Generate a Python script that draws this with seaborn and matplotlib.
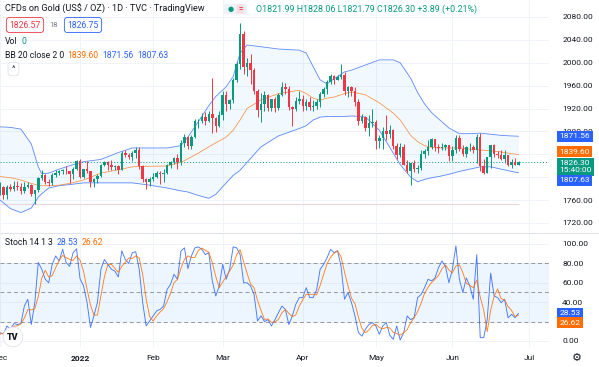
import matplotlib
matplotlib.use("Agg")
import matplotlib.pyplot as plt
import numpy as np
import pandas as pd
import seaborn as sns

# ---- data (daily bars, Dec 1 2021 .. Jun 28 2022) ----
opens = [1774, 1782, 1769, 1783, 1779, 1785, 1783, 1775, 1782, 1787, 1771, 1777, 1799, 1804, 1791, 1789, 1803, 1808, 1811, 1811, 1810, 1805, 1815,
         1829, 1801, 1814, 1810, 1791, 1797, 1802, 1821, 1826, 1821, 1817, 1819, 1813, 1842, 1839, 1835, 1843, 1848, 1819, 1797, 1791,
         1797, 1801, 1807, 1805, 1808, 1821, 1826, 1833, 1827, 1860, 1871, 1855, 1870, 1898, 1898, 1906, 1898, 1910, 1903, 1889,
         1908, 1943, 1928, 1935, 1970, 1998, 2050, 1992, 1999, 1987, 1951, 1917, 1928, 1943, 1921, 1936, 1921, 1944, 1958, 1954, 1922, 1919, 1933,
         1937, 1925, 1932, 1923, 1925, 1931, 1946, 1954, 1966, 1977, 1970, 1975, 1979, 1950, 1958, 1951, 1931, 1898, 1905, 1886, 1894,
         1897, 1863, 1868, 1881, 1876, 1883, 1854, 1838, 1853, 1822, 1811, 1824, 1815, 1816, 1841, 1846, 1853, 1866, 1853, 1851, 1853, 1856,
         1837, 1847, 1869, 1850, 1841, 1852, 1853, 1848, 1871, 1819, 1808, 1835, 1857, 1840, 1838, 1832, 1838, 1822, 1827, 1821.99]
highs = [1792, 1784, 1787, 1788, 1793, 1793, 1790, 1792, 1791, 1788, 1778, 1800, 1812, 1806, 1796, 1808, 1813, 1812, 1815, 1820, 1811, 1817, 1830,
         1831, 1815, 1829, 1811, 1799, 1805, 1823, 1829, 1829, 1830, 1822, 1821, 1845, 1847, 1843, 1845, 1852, 1853, 1822, 1799, 1801,
         1808, 1811, 1810, 1815, 1823, 1829, 1836, 1841, 1865, 1875, 1872, 1873, 1902, 1902, 1913, 1914, 1915, 1974, 1906, 1916,
         1950, 1950, 1937, 1974, 2002, 2070, 2056, 2009, 2015, 1990, 1954, 1947, 1950, 1945, 1937, 1940, 1947, 1966, 1965, 1960, 1924, 1940, 1950,
         1944, 1937, 1940, 1934, 1937, 1948, 1958, 1970, 1981, 1979, 1978, 1998, 1983, 1960, 1960, 1958, 1936, 1911, 1907, 1909, 1920,
         1900, 1873, 1887, 1909, 1891, 1884, 1860, 1859, 1858, 1830, 1825, 1830, 1822, 1847, 1849, 1865, 1869, 1867, 1858, 1860, 1858, 1857,
         1855, 1874, 1874, 1857, 1855, 1860, 1857, 1875, 1878, 1832, 1836, 1857, 1858, 1846, 1847, 1847, 1838, 1831, 1834, 1828.06]
lows = [1769, 1762, 1762, 1776, 1776, 1777, 1771, 1773, 1781, 1767, 1753, 1774, 1795, 1788, 1785, 1786, 1801, 1803, 1806, 1805, 1790, 1797, 1813,
        1799, 1798, 1808, 1783, 1783, 1789, 1800, 1819, 1812, 1813, 1813, 1805, 1812, 1836, 1831, 1828, 1834, 1815, 1792, 1780, 1785,
        1794, 1799, 1788, 1791, 1805, 1816, 1823, 1815, 1822, 1852, 1850, 1849, 1868, 1886, 1894, 1892, 1896, 1878, 1879, 1888,
        1900, 1915, 1920, 1930, 1966, 1989, 1981, 1976, 1962, 1945, 1906, 1896, 1915, 1916, 1916, 1914, 1917, 1942, 1945, 1918, 1890, 1915, 1928,
        1916, 1918, 1917, 1915, 1919, 1923, 1940, 1946, 1962, 1962, 1970, 1972, 1944, 1940, 1941, 1925, 1891, 1895, 1881, 1872, 1888,
        1850, 1851, 1850, 1865, 1868, 1850, 1832, 1836, 1821, 1808, 1787, 1809, 1807, 1813, 1834, 1838, 1850, 1845, 1842, 1847, 1848, 1829,
        1828, 1843, 1846, 1837, 1835, 1845, 1842, 1825, 1810, 1805, 1807, 1816, 1835, 1834, 1830, 1824, 1820, 1816, 1822, 1821.79]
closes = [1782, 1769, 1783, 1779, 1785, 1783, 1775, 1782, 1787, 1771, 1777, 1799, 1804, 1791, 1789, 1803, 1808, 1811, 1811, 1810, 1805, 1815, 1829,
          1801, 1814, 1810, 1791, 1797, 1802, 1821, 1826, 1821, 1817, 1819, 1813, 1842, 1839, 1835, 1843, 1848, 1819, 1797, 1791, 1797,
          1801, 1807, 1805, 1808, 1821, 1826, 1833, 1827, 1860, 1871, 1855, 1870, 1898, 1898, 1906, 1898, 1910, 1903, 1889, 1908,
          1943, 1928, 1935, 1970, 1998, 2050, 1992, 1999, 1987, 1951, 1917, 1928, 1943, 1921, 1936, 1921, 1944, 1958, 1954, 1922, 1919, 1933, 1937,
          1925, 1932, 1923, 1925, 1931, 1946, 1954, 1966, 1977, 1970, 1975, 1979, 1950, 1958, 1951, 1931, 1898, 1905, 1886, 1894, 1897,
          1863, 1868, 1881, 1876, 1883, 1854, 1838, 1853, 1822, 1811, 1824, 1815, 1816, 1841, 1846, 1853, 1866, 1853, 1851, 1853, 1856, 1837,
          1847, 1869, 1850, 1841, 1852, 1853, 1848, 1871, 1819, 1808, 1835, 1857, 1840, 1838, 1832, 1838, 1822, 1827, 1822, 1826.30]

# Bollinger bands at a subset of bars
bb_idx = [0, 3, 6, 9, 11, 12, 14, 17, 20, 24, 29, 34, 38, 43, 48, 52, 54, 57, 60, 62, 65, 67, 69, 71, 75, 80, 86, 88, 90, 92, 94, 96,
          99, 101, 105, 109, 113, 115, 118, 120, 122, 124, 126, 129, 132, 135, 138, 141, 144, 147, 149]
bb_upper = [1888, 1887, 1884, 1858, 1818, 1806, 1807, 1814, 1820, 1827, 1831, 1843, 1851, 1851, 1851, 1855, 1870, 1897, 1925, 1941, 1958, 1976,
            2017, 2031, 2028, 2024, 2022, 2017, 1993, 1970, 1963, 1972, 1984, 1987, 1996, 2005, 2005, 2000, 1973, 1948, 1928, 1913, 1902,
            1886, 1876, 1876, 1877, 1875, 1873, 1872, 1871.56]
bb_basis = [1801, 1799, 1795, 1789, 1786, 1785, 1785, 1786, 1789, 1795, 1807, 1813, 1818, 1819, 1819.5, 1826, 1832, 1842, 1853, 1860, 1870,
            1882, 1900, 1920, 1935, 1946, 1952, 1946, 1938, 1935, 1938, 1940, 1946, 1949, 1944, 1930, 1912, 1900, 1873, 1862, 1855, 1852,
            1851, 1851, 1851, 1849, 1847.5, 1846, 1844, 1841, 1839.60]
bb_lower = [1760, 1745, 1738, 1746, 1765, 1771, 1781, 1785, 1787, 1790, 1790, 1790, 1790, 1786, 1781, 1776, 1774, 1768, 1763, 1770, 1790,
            1803, 1812, 1826, 1853, 1872, 1885, 1890, 1900, 1905, 1906, 1906, 1906, 1907, 1905, 1882, 1842, 1822, 1800, 1792, 1796, 1799,
            1801, 1805, 1810, 1814, 1818, 1818, 1814, 1810, 1807.63]

# Stochastic 14 1 3
stoch_k = [8.6, 7, 15.5, 12, 18, 17, 18, 36, 43, 17, 39.5, 81, 74, 63.6, 60, 79, 87.6, 82.5, 94.5, 81,
           77, 91, 95, 64, 57, 40, 14, 26, 40, 74, 84, 79, 74, 72, 66, 93, 84, 80, 91, 92,
           74, 39.5, 15.5, 20.6, 25.8, 31, 32.6, 36, 53, 58.4, 68.7, 63.6, 92.8, 96, 74.6, 87.6, 96, 97, 94.5, 89,
           91, 62, 46.4, 56.7, 79, 63.6, 74, 97, 96, 89, 60, 60, 56.7, 48, 20.6, 26, 20, 22, 15.5, 22,
           29, 36, 32.6, 17, 25.8, 37.8, 44.7, 44.7, 55, 44.7, 44.7, 53, 74, 79, 86, 94.5, 91, 93, 77, 43,
           50, 39.5, 25.8, 8.6, 5, 12, 17, 19, 15.5, 7, 15.5, 19, 6, 1.7, 15.5, 1, 8.6, 25.8, 22, 24,
           44.7, 48, 55, 63.6, 62, 65, 75.6, 82.5, 77, 60, 74, 98, 63.6, 50, 65, 56.7, 43, 89, 3.4, 3.4,
           22, 70, 46.4, 44.7, 39.5, 43, 24, 27.5, 24, 28.53]
stoch_d = [7, 8, 10.4, 11.5, 15.2, 15.7, 17.7, 23.7, 32.3, 32, 33.2, 45.8, 64.8, 72.9, 65.9, 67.5, 75.5, 83, 88.2, 86,
           84.2, 83, 87.7, 83.3, 72, 53.7, 37, 26.7, 26.7, 46.7, 66, 79, 79, 75, 70.7, 77, 81, 85.7, 85, 87.7,
           85.7, 68.5, 43, 25.2, 20.6, 25.8, 29.8, 33.2, 40.5, 49.1, 60, 63.6, 75, 84.1, 87.8, 86.1, 86.1, 93.5, 95.8, 93.5,
           91.5, 80.7, 66.5, 55, 60.7, 66.4, 72.2, 78.2, 89, 94, 81.7, 69.7, 58.9, 54.9, 41.8, 31.5, 22.2, 22.7, 19.2, 19.8,
           22.2, 29, 32.5, 28.5, 25.1, 26.9, 36.1, 42.4, 48.1, 48.1, 48.1, 47.5, 57.2, 68.7, 79.7, 86.5, 90.5, 92.8, 87, 71,
           56.7, 44.2, 38.4, 24.6, 13.1, 8.5, 11.3, 16, 17.2, 13.8, 12.7, 13.8, 13.5, 8.9, 7.7, 6.1, 8.4, 11.8, 18.8, 23.9,
           30.2, 38.9, 49.2, 55.5, 60.2, 63.5, 67.5, 74.4, 78.4, 73.2, 70.3, 77.3, 78.5, 70.5, 59.5, 57.2, 54.9, 62.9, 45.1, 31.9,
           9.6, 31.8, 46.1, 53.7, 43.5, 42.4, 35.5, 31.5, 25.2, 26.62]

price_ticks = [1720, 1760, 1800, 1840, 1880, 1920, 1960, 2000, 2040, 2080]
stoch_ticks = [0, 20, 40, 60, 80, 100]
# tick labels that the value badges cover in the original
hidden_price = [1800, 1840]
hidden_stoch = [20]
month_labels = ["Dec", "2022", "Feb", "Mar", "Apr", "May", "Jun", "Jul"]

UP = "#089981"
DOWN = "#f23645"
BLUE = "#2962ff"
ORANGE = "#ff6d00"
TXT = "#131722"
GRID = "#f0f3fa"

sns.set_style("white")
plt.rcParams["font.family"] = ["Roboto", "DejaVu Sans"]

W, H = 599, 367
fig = plt.figure(figsize=(W / 100, H / 100), dpi=100, facecolor="white")


def fx(px):
    return px / W


def fy(py):
    return 1 - py / H


ax = fig.add_axes([0, fy(232), fx(549), 232 / H])
ax2 = fig.add_axes([0, fy(347), fx(549), (347 - 234) / H])

# month tick positions on the bar index axis
all_days = pd.bdate_range("2021-12-01", "2022-07-01")
month_pos = [i for i in range(len(all_days)) if i == 0 or all_days[i].month != all_days[i - 1].month]

x = np.arange(len(closes))
o, h, l, c = map(np.array, (opens, highs, lows, closes))
colors = np.where(c >= o, UP, DOWN)

# ---- price panel ----
ax.fill_between(bb_idx, bb_lower, bb_upper, color="#2196f3", alpha=0.06, lw=0, zorder=1)
sns.lineplot(x=bb_idx, y=bb_upper, ax=ax, color=BLUE, lw=0.6, alpha=0.75, zorder=2)
sns.lineplot(x=bb_idx, y=bb_lower, ax=ax, color=BLUE, lw=0.6, alpha=0.75, zorder=2)
sns.lineplot(x=bb_idx, y=bb_basis, ax=ax, color=ORANGE, lw=0.55, alpha=0.75, zorder=2)

ax.hlines(l.min(), 0, len(closes) - 1, color="#f0d6da", lw=0.8, zorder=1)
ax.axhline(closes[-1], color=UP, ls=(0, (1, 2)), lw=0.7, zorder=2)

ax.vlines(x, l, h, colors=colors, lw=0.7, zorder=3)
ax.bar(x, np.maximum(np.abs(c - o), 0.8), bottom=np.minimum(o, c), width=0.72, color=colors, lw=0, zorder=4)

ax.set_xlim(0, 549 / 3.48)
ax.set_ylim(1704.1, 2109.7)
ax.yaxis.tick_right()
ax.set_yticks(price_ticks)
ax.set_yticklabels(["" if v in hidden_price else f"{v:.2f}" for v in price_ticks])
ax.set_xticks(month_pos)
ax.set_xticklabels([])
ax.tick_params(axis="both", length=0, pad=9.5, labelsize=6, labelcolor=TXT)
ax.grid(True, color=GRID, lw=0.7)
ax.set_xlabel("")
ax.set_ylabel("")
for s in ax.spines.values():
    s.set_visible(False)

# ---- stochastic panel ----
ax2.axhspan(20, 80, color="#2196f3", alpha=0.08, lw=0, zorder=1)
for lvl in (80, 50, 20):
    ax2.axhline(lvl, color="#9598a1", ls=(0, (4, 3)), lw=0.7, zorder=2)
sns.lineplot(x=x, y=stoch_k, ax=ax2, color=BLUE, lw=0.65, alpha=0.85, zorder=3)
sns.lineplot(x=x, y=stoch_d, ax=ax2, color=ORANGE, lw=0.65, alpha=0.85, zorder=3)

ax2.set_xlim(0, 549 / 3.48)
ax2.set_ylim(-6.2, 110.3)
ax2.yaxis.tick_right()
ax2.set_yticks(stoch_ticks)
ax2.set_yticklabels(["" if v in hidden_stoch else f"{v:.2f}" for v in stoch_ticks])
ax2.set_xticks(month_pos)
ax2.set_xticklabels(month_labels)
ax2.tick_params(axis="y", length=0, pad=9.5, labelsize=6, labelcolor=TXT)
ax2.tick_params(axis="x", length=0, pad=6, labelsize=6, labelcolor=TXT)
ax2.get_xticklabels()[1].set_fontweight("bold")
ax2.grid(True, color=GRID, lw=0.7)
ax2.set_xlabel("")
ax2.set_ylabel("")
for s in ax2.spines.values():
    s.set_visible(False)


def badge(a, y, text, color, dy=0):
    a.annotate(text, xy=(1, y), xycoords=("axes fraction", "data"), xytext=(7.5, dy),
               textcoords="offset points", ha="left", va="center", fontsize=6, color="white",
               linespacing=1.2, bbox=dict(boxstyle="square,pad=0.3", fc=color, ec="none"),
               annotation_clip=False, zorder=10)


badge(ax, bb_upper[-1], f"{bb_upper[-1]:.2f}", BLUE)
badge(ax, bb_basis[-1], f"{bb_basis[-1]:.2f}", ORANGE, dy=1.8)
badge(ax, closes[-1], f"{closes[-1]:.2f}\n15:40:00", UP, dy=-3.3)
badge(ax, bb_lower[-1], f"{bb_lower[-1]:.2f}", BLUE, dy=-5.2)
badge(ax2, stoch_k[-1], f"{stoch_k[-1]:.2f}", BLUE)
badge(ax2, stoch_d[-1], f"{stoch_d[-1]:.2f}", ORANGE, dy=-5.6)

# panel separator
fig.add_artist(plt.Line2D([0, 1], [fy(233), fy(233)], color="#e0e3eb", lw=0.8))


# ---- legends / header ----
def put(xp, yp, s, **kw):
    kw.setdefault("fontsize", 6.2)
    kw.setdefault("color", TXT)
    fig.text(fx(xp), fy(yp), s, ha=kw.pop("ha", "left"), va="center", **kw)


put(5, 9, "CFDs on Gold (US$ / OZ) · 1D · TVC · TradingView", fontsize=6.6)
put(226, 9, "          ", fontsize=5.5, bbox=dict(boxstyle="round,pad=0.3", fc="#eef1f6", ec="none"))
put(228, 9, "●", color=UP, fontsize=5)
put(238, 9, "=", color=DOWN, fontsize=5.5, fontweight="bold",
    bbox=dict(boxstyle="round,pad=0.15", fc="#fcdde1", ec="none"))
put(256, 9, "O1821.99 H1828.06 L1821.79 C1826.30 +3.89 (+0.21%)", color=UP, fontsize=6.4)

put(25, 25, "1826.57", color=DOWN, ha="center",
    bbox=dict(boxstyle="round,pad=0.35", fc="white", ec=DOWN, lw=0.6))
put(54, 25, "18", color="#787b86", ha="center", fontsize=5.5)
put(83, 25, "1826.75", color=BLUE, ha="center",
    bbox=dict(boxstyle="round,pad=0.35", fc="white", ec=BLUE, lw=0.6))
put(5, 41.5, "Vol")
put(21, 41.5, "0", color=UP)
put(5, 55, "BB 20 close 2 0")
put(67, 55, f"{bb_basis[-1]:.2f}", color=ORANGE)
put(102, 55, f"{bb_upper[-1]:.2f}", color=BLUE)
put(137, 55, f"{bb_lower[-1]:.2f}", color=BLUE)
put(13.5, 69, "^", ha="center", fontsize=6,
    bbox=dict(boxstyle="round,pad=0.45", fc="white", ec="#e0e3eb", lw=0.6))

put(5, 242.5, "Stoch 14 1 3")
put(57, 242.5, f"{stoch_k[-1]:.2f}", color=BLUE)
put(82, 242.5, f"{stoch_d[-1]:.2f}", color=ORANGE)

put(13, 337, "TV", ha="center", fontsize=6.5, fontweight="heavy",
    bbox=dict(boxstyle="circle,pad=0.45", fc="white", ec="#e0e3eb", lw=0.6))
put(577, 358, "⚙", ha="center", fontsize=8, family=["DejaVu Sans"])

fig.savefig("out.png", dpi=100, facecolor="white")
